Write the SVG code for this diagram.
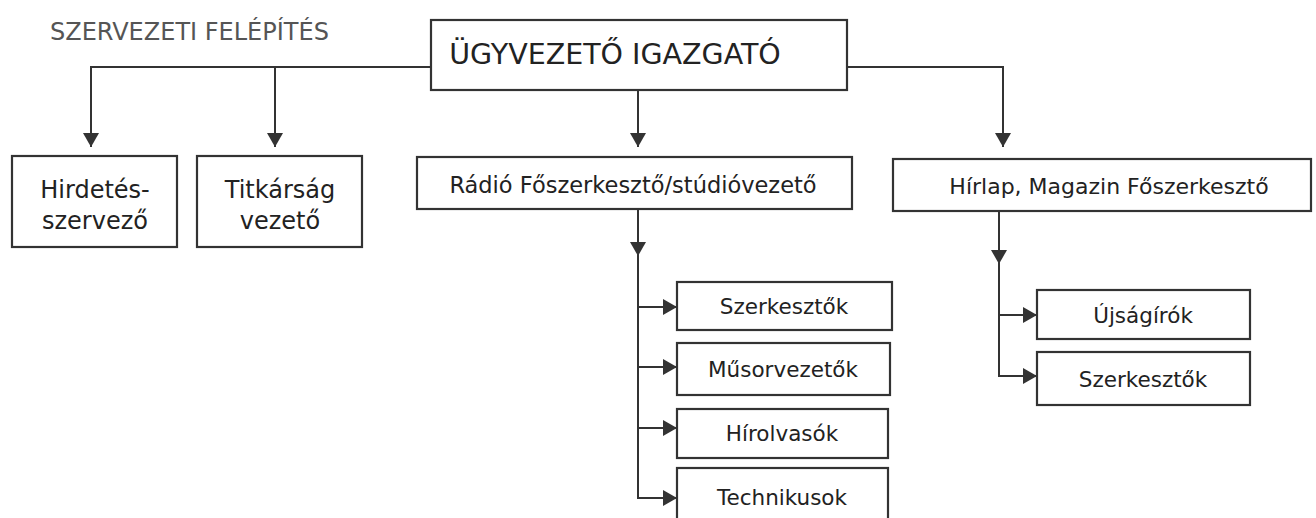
<svg xmlns="http://www.w3.org/2000/svg" width="1316" height="518" viewBox="0 0 1316 518">
<style>
.box{fill:#fff;stroke:#333;stroke-width:2.2}
.t{font-family:"DejaVu Sans","Liberation Sans",sans-serif;fill:#222;text-anchor:middle}
.ln{fill:none;stroke:#333;stroke-width:2}
</style>
<defs>
<marker id="ah" markerWidth="16" markerHeight="16" refX="14" refY="8" orient="auto" markerUnits="userSpaceOnUse">
<path d="M0,0 L14,8 L0,16 Z" fill="#333"/>
</marker>
</defs>
<rect width="1316" height="518" fill="#fff"/>
<text x="50" y="40" style="font-family:'DejaVu Sans','Liberation Sans',sans-serif;font-size:24px;fill:#555">SZERVEZETI FELÉPÍTÉS</text>
<g id="connectors">
<path class="ln" d="M431,67 H91 V147" marker-end="url(#ah)"/>
<path class="ln" d="M275,67 V147" marker-end="url(#ah)"/>
<path class="ln" d="M638,90 V147" marker-end="url(#ah)"/>
<path class="ln" d="M847,67 H1003 V147" marker-end="url(#ah)"/>
<path class="ln" d="M638,209 V256" marker-end="url(#ah)"/>
<path class="ln" d="M638,250 V498 H677" marker-end="url(#ah)"/>
<path class="ln" d="M638,307 H677" marker-end="url(#ah)"/>
<path class="ln" d="M638,367 H677" marker-end="url(#ah)"/>
<path class="ln" d="M638,428 H677" marker-end="url(#ah)"/>
<path class="ln" d="M999,211 V264" marker-end="url(#ah)"/>
<path class="ln" d="M999,258 V376 H1037" marker-end="url(#ah)"/>
<path class="ln" d="M999,315 H1037" marker-end="url(#ah)"/>
</g>
<g id="ceo"><rect class="box" x="431" y="20" width="416" height="70"/><text class="t" x="615" y="64" style="font-size:28.5px">ÜGYVEZETŐ IGAZGATÓ</text></g>
<g id="hirdetes"><rect class="box" x="12" y="156" width="165" height="91"/><text class="t" x="95" y="198" style="font-size:24px">Hirdetés-</text><text class="t" x="95" y="229" style="font-size:24px">szervező</text></g>
<g id="titkarsag"><rect class="box" x="197" y="156" width="165" height="91"/><text class="t" x="280" y="198" style="font-size:24px">Titkárság</text><text class="t" x="280" y="229" style="font-size:24px">vezető</text></g>
<g id="radio"><rect class="box" x="417" y="157" width="435" height="52"/><text class="t" x="633" y="193" style="font-size:22.5px">Rádió Főszerkesztő/stúdióvezető</text></g>
<g id="hirlap"><rect class="box" x="893" y="159" width="418" height="52"/><text class="t" x="1109" y="194" style="font-size:22px">Hírlap, Magazin Főszerkesztő</text></g>
<g id="r-szerk"><rect class="box" x="677" y="282" width="215" height="48"/><text class="t" x="784" y="314" style="font-size:21.5px">Szerkesztők</text></g>
<g id="r-musor"><rect class="box" x="677" y="343" width="213" height="52"/><text class="t" x="783" y="377" style="font-size:21.5px">Műsorvezetők</text></g>
<g id="r-hirolv"><rect class="box" x="677" y="409" width="211" height="49"/><text class="t" x="782" y="441" style="font-size:21.5px">Hírolvasók</text></g>
<g id="r-tech"><rect class="box" x="677" y="468" width="211" height="60"/><text class="t" x="782" y="505" style="font-size:21.5px">Technikusok</text></g>
<g id="h-ujsag"><rect class="box" x="1037" y="290" width="213" height="49"/><text class="t" x="1143" y="323" style="font-size:21.5px">Újságírók</text></g>
<g id="h-szerk"><rect class="box" x="1037" y="352" width="213" height="53"/><text class="t" x="1143" y="387" style="font-size:21.5px">Szerkesztők</text></g>
</svg>
